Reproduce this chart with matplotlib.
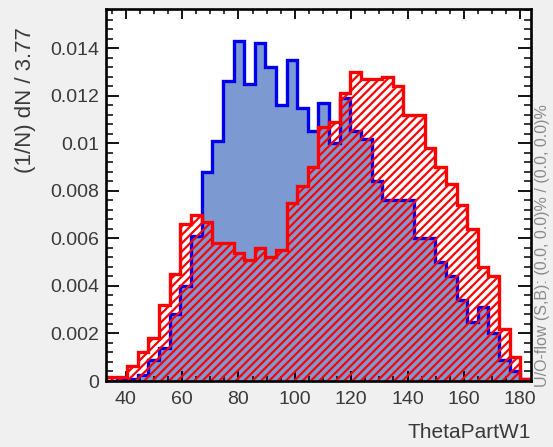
import numpy as np
import matplotlib
matplotlib.use('Agg')
import matplotlib.pyplot as plt
from matplotlib.ticker import MultipleLocator, FixedLocator, FixedFormatter

# ---- data ----
bin_width = 3.77
x_min = 33.0
signal = [0.0, 0.00005, 0.0001, 0.00026, 0.0009, 0.0014, 0.0028, 0.0040, 0.0061, 0.0088,
          0.0101, 0.0126, 0.0143, 0.0125, 0.0142, 0.0132, 0.0116, 0.0135, 0.0115, 0.0105,
          0.0117, 0.0100, 0.0119, 0.0105, 0.0102, 0.0084, 0.0076, 0.0076, 0.0076, 0.0060,
          0.0060, 0.0050, 0.0044, 0.0034, 0.0025, 0.0031, 0.0020, 0.0009, 0.0004, 0.0001]
background = [0.00015, 0.00015, 0.00061, 0.0012, 0.0018, 0.0032, 0.0045, 0.0066, 0.0070, 0.0067,
              0.0058, 0.0058, 0.0054, 0.0051, 0.0056, 0.0052, 0.0055, 0.0075, 0.0082, 0.0090,
              0.0107, 0.0109, 0.0121, 0.0130, 0.0127, 0.0127, 0.0128, 0.0124, 0.0112, 0.0112,
              0.0098, 0.0090, 0.0083, 0.0074, 0.0064, 0.0048, 0.0044, 0.0022, 0.0010, 0.0001]
xtick_values = [40, 60, 80, 100, 120, 140, 160, 180]
ytick_values = [0, 0.002, 0.004, 0.006, 0.008, 0.010, 0.012, 0.014]
ytick_labels = ['0', '0.002', '0.004', '0.006', '0.008', '0.01', '0.012', '0.014']
x_title = 'ThetaPartW1'
y_title = '(1/N) dN / 3.77'
flow_text = 'U/O-flow (S,B): (0.0, 0.0)% / (0.0, 0.0)%'

edges = x_min + bin_width * np.arange(len(signal) + 1)

plt.rcParams['font.family'] = ['Liberation Sans', 'DejaVu Sans']
plt.rcParams['hatch.linewidth'] = 1.6

W, H = 553, 447
fig = plt.figure(figsize=(W / 100, H / 100), dpi=100, facecolor='#f0f0f0')
ax = fig.add_axes([106 / W, 1 - 381 / H, (531 - 106) / W, (381 - 8.5) / H])
ax.set_facecolor('white')

# signal
ax.stairs(signal, edges, fill=True, facecolor='#7d99d1', edgecolor='none', zorder=1)
ax.stairs(signal, edges, color='#0000ee', linewidth=2.4, zorder=2)
# background
ax.stairs(background, edges, fill=True, facecolor='none', edgecolor='#ff0000',
          hatch='////', linewidth=0, zorder=3)
ax.stairs(background, edges, color='#ff0000', linewidth=2.4, zorder=4)

ax.set_xlim(edges[0], edges[-1])
ax.set_ylim(0, 0.01567)

ax.xaxis.set_major_locator(FixedLocator(xtick_values))
ax.xaxis.set_minor_locator(MultipleLocator(5))
ax.yaxis.set_major_locator(FixedLocator(ytick_values))
ax.yaxis.set_major_formatter(FixedFormatter(ytick_labels))
ax.yaxis.set_minor_locator(MultipleLocator(0.0004))

tc = '#3a3a3a'
ax.tick_params(axis='x', which='major', direction='in', length=7, width=1.3,
               top=True, bottom=True, labelsize=14, labelcolor=tc, pad=7)
ax.tick_params(axis='x', which='minor', direction='in', length=3.8, width=1.1,
               top=True, bottom=True)
ax.tick_params(axis='y', which='major', direction='in', length=9.4, width=1.3,
               left=True, right=True, labelsize=14, labelcolor=tc, pad=5)
ax.tick_params(axis='y', which='minor', direction='in', length=5, width=1.1,
               left=True, right=True)
for s in ax.spines.values():
    s.set_linewidth(1.9)
    s.set_zorder(10)

fig.text(531 / W, 1 - 433 / H, x_title, ha='right', va='center', fontsize=15, color=tc)
fig.text(26 / W, 1 - 100 / H, y_title, ha='center', va='center', rotation=90,
         fontsize=16, color=tc)
fig.text(543 / W, 1 - 387 / H, flow_text, ha='center', va='bottom', rotation=90,
         fontsize=11.5, color='#8a8a8a')

fig.savefig('out.png', dpi=100, facecolor=fig.get_facecolor())
